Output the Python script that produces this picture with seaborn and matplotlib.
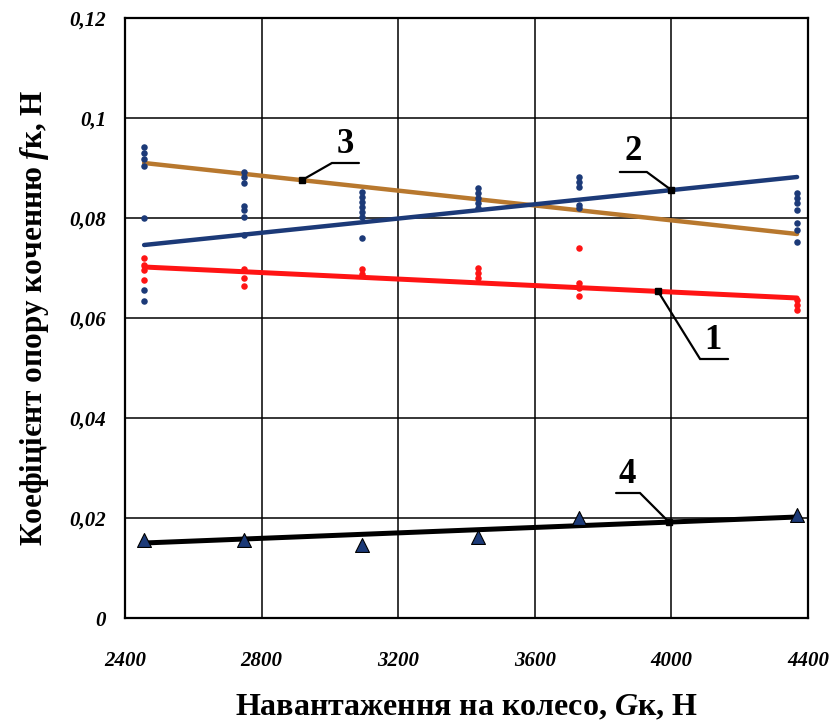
import numpy as np
import pandas as pd
import matplotlib
matplotlib.use("Agg")
import matplotlib.pyplot as plt
import seaborn as sns

# ---- measured values -------------------------------------------------------
# wheel load for each measurement group, N
blue_x = [2456] * 7 + [2748] * 7 + [3094] * 7 + [3434] * 5 + [3729] * 5 + [4368] * 7
blue_y = [0.0942, 0.0930, 0.0918, 0.0904, 0.0800, 0.0656, 0.0634,
          0.0892, 0.0882, 0.0870, 0.0824, 0.0816, 0.0802, 0.0766,
          0.0852, 0.0842, 0.0832, 0.0822, 0.0812, 0.0802, 0.0760,
          0.0860, 0.0850, 0.0840, 0.0830, 0.0820,
          0.0882, 0.0872, 0.0862, 0.0826, 0.0820,
          0.0850, 0.0840, 0.0830, 0.0816, 0.0790, 0.0776, 0.0752]

red_x = [2456] * 4 + [2748] * 3 + [3094] * 2 + [3434] * 3 + [3729] * 4 + [4368] * 3
red_y = [0.0720, 0.0706, 0.0696, 0.0676,
         0.0698, 0.0680, 0.0664,
         0.0698, 0.0688,
         0.0700, 0.0690, 0.0680,
         0.0740, 0.0670, 0.0660, 0.0644,
         0.0636, 0.0626, 0.0616]

tri_x = [2456, 2748, 3094, 3434, 3729, 4368]
tri_y = [0.0156, 0.0156, 0.0146, 0.0162, 0.0200, 0.0206]

# trend lines (start and end of the approximation range)
trend_x = [2456, 4368]
trend_1 = [0.0702, 0.0640]
trend_2 = [0.0746, 0.0882]
trend_3 = [0.0910, 0.0768]
trend_4 = [0.0150, 0.0202]

x_ticks = [2400, 2800, 3200, 3600, 4000, 4400]
x_tick_labels = ["2400", "2800", "3200", "3600", "4000", "4400"]
y_ticks = [0, 0.02, 0.04, 0.06, 0.08, 0.10, 0.12]
y_tick_labels = ["0", "0,02", "0,04", "0,06", "0,08", "0,1", "0,12"]

# ---- styling ---------------------------------------------------------------
sns.set_style("white")
plt.rcParams["font.family"] = ["Liberation Serif", "DejaVu Serif"]
plt.rcParams["text.color"] = "black"
plt.rcParams["axes.labelcolor"] = "black"
plt.rcParams["mathtext.fontset"] = "custom"
plt.rcParams["mathtext.it"] = "Liberation Serif:italic:bold"
plt.rcParams["mathtext.rm"] = "Liberation Serif:bold"

fig = plt.figure(figsize=(8.38, 7.22), dpi=100)
ax = fig.add_axes([125 / 838, 1 - 618 / 722, 683 / 838, 600 / 722])

BLUE = "#1c3a78"
RED = "#ff1414"
BROWN = "#b8782e"

def interp(xs, ys, x):
    return ys[0] + (ys[1] - ys[0]) * (x - xs[0]) / (xs[1] - xs[0])

# trend lines
sns.lineplot(x=trend_x, y=trend_3, color=BROWN, lw=3.2, ax=ax, zorder=3)
sns.lineplot(x=trend_x, y=trend_2, color=BLUE, lw=3.2, ax=ax, zorder=3)
sns.lineplot(x=trend_x, y=trend_1, color=RED, lw=3.6, ax=ax, zorder=3)
sns.lineplot(x=trend_x, y=trend_4, color="black", lw=3.6, ax=ax, zorder=3)

# measured points
sns.scatterplot(x=blue_x, y=blue_y, color=BLUE, s=22, linewidth=0, ax=ax, zorder=4)
sns.scatterplot(x=red_x, y=red_y, color=RED, s=22, linewidth=0, ax=ax, zorder=4)
sns.scatterplot(x=tri_x, y=tri_y, color=BLUE, marker="^", s=100,
                edgecolor="black", linewidth=0.8, ax=ax, zorder=5)

# numbered callouts: label, anchor x on the trend line, underline start/end, text position
callouts = [
    ("3", trend_3, 2918, (3006, 0.0910), (3085, 0.0910), (3044, 0.0948)),
    ("2", trend_2, 4000, (3928, 0.0892), (3849, 0.0892), (3888, 0.0934)),
    ("1", trend_1, 3961, (4084, 0.0518), (4166, 0.0518), (4122, 0.0556)),
    ("4", trend_4, 3993, (3908, 0.0250), (3838, 0.0250), (3870, 0.0288)),
]
for label, trend, ax_x, (x0, y0), (x1, y1), (tx, ty) in callouts:
    ay = interp(trend_x, trend, ax_x)
    ax.plot([ax_x, x0, x1], [ay, y0, y1], color="black", lw=1.6, zorder=6,
            solid_joinstyle="miter")
    ax.plot([ax_x], [ay], marker="s", ms=4, color="black", zorder=6)
    ax.text(tx, ty, label, fontsize=25, fontweight="bold", ha="center",
            va="center", color="black", zorder=7)

# axes, grid and ticks
ax.set_xlim(2400, 4400)
ax.set_ylim(0, 0.12)
ax.set_xticks(x_ticks)
ax.set_xticklabels(x_tick_labels)
ax.set_yticks(y_ticks)
ax.set_yticklabels(y_tick_labels)
ax.set_xticks(np.arange(2600, 4400, 400), minor=True)
ax.set_yticks(np.arange(0.01, 0.12, 0.02), minor=True)
ax.grid(True, which="major", color="black", lw=1.1)
ax.set_axisbelow(True)
for s in ax.spines.values():
    s.set_visible(True)
    s.set_color("black")
    s.set_linewidth(1.6)

ax.tick_params(which="major", direction="inout", length=9, width=1.3,
               colors="black", labelcolor="black")
ax.tick_params(which="minor", direction="in", length=6, width=1.3,
               colors="black")
ax.tick_params(axis="x", which="major", pad=19)
ax.tick_params(axis="y", which="major", pad=9)
for lab in ax.get_xticklabels() + ax.get_yticklabels():
    lab.set_fontstyle("italic")
    lab.set_fontweight("bold")
    lab.set_fontsize(15)

ax.set_xlabel("Навантаження на колесо, $\\mathit{G}$к, Н", fontsize=23,
              fontweight="bold", labelpad=16, color="black")
ax.set_ylabel("Коефіцієнт опору коченню $\\mathit{f}$к, Н", fontsize=22.5,
              fontweight="bold", labelpad=13, color="black")

fig.savefig("out.png", dpi=100)
